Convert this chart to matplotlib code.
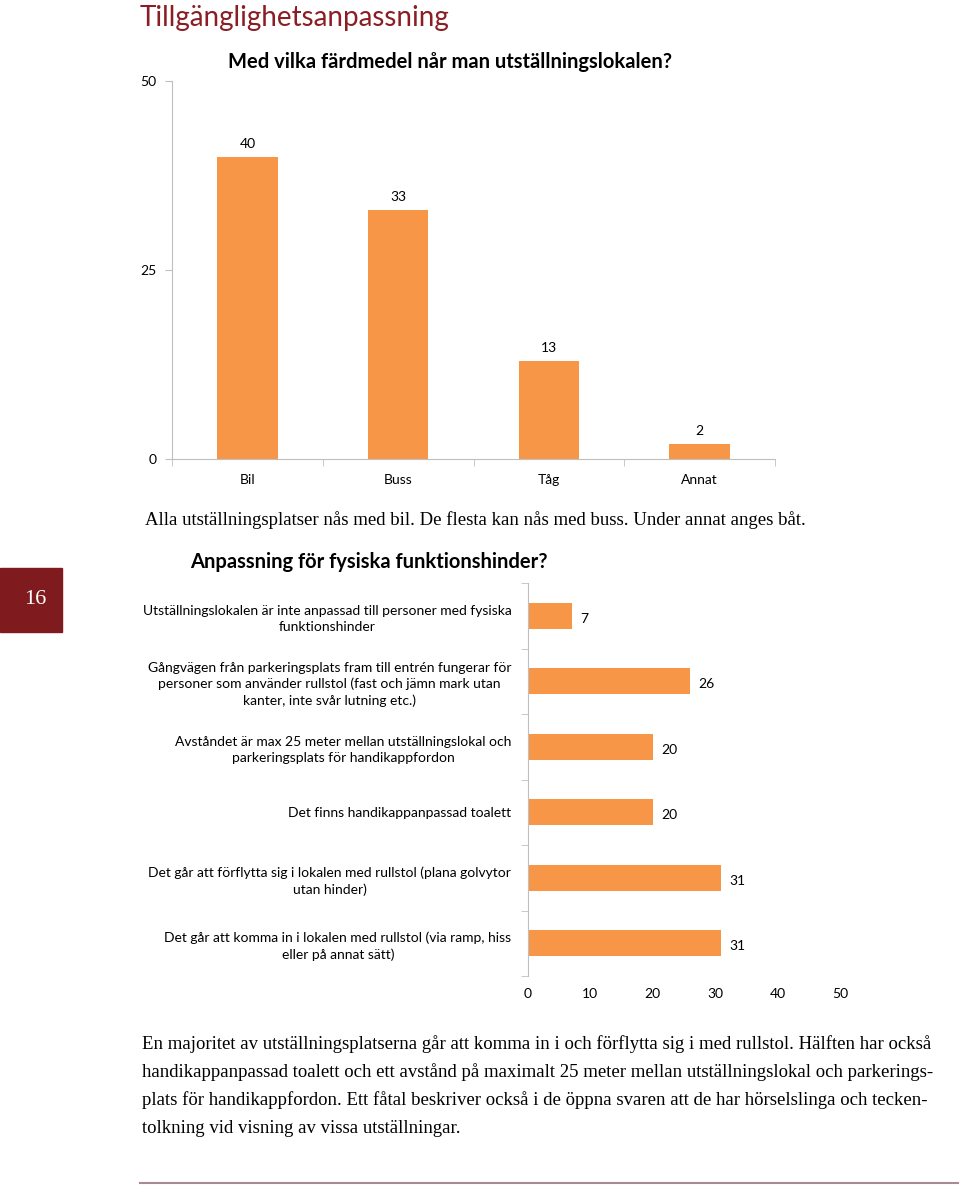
import numpy as np
import matplotlib.pyplot as plt

# data
transport = ['Bil', 'Buss', 'Tåg', 'Annat']
transport_n = [40, 33, 13, 2]

fys_labels = [
    'Utställningslokalen är inte anpassad till personer med fysiska\nfunktionshinder',
    'Gångvägen från parkeringsplats fram till entrén fungerar för\npersoner som använder rullstol (fast och jämn mark utan\nkanter, inte svår lutning etc.)',
    'Avståndet är max 25 meter mellan utställningslokal och\nparkeringsplats för handikappfordon',
    'Det finns handikappanpassad toalett',
    'Det går att förflytta sig i lokalen med rullstol (plana golvytor\nutan hinder)',
    'Det går att komma in i lokalen med rullstol (via ramp, hiss\neller på annat sätt)',
]
fys_n = [7, 26, 20, 20, 31, 31]

caption1 = 'Alla utställningsplatser nås med bil. De flesta kan nås med buss. Under annat anges båt.'
para = [
    'En majoritet av utställningsplatserna går att komma in i och förflytta sig i med rullstol. Hälften har också',
    'handikappanpassad toalett och ett avstånd på maximalt 25 meter mellan utställningslokal och parkerings-',
    'plats för handikappfordon. Ett fåtal beskriver också i de öppna svaren att de har hörselslinga och tecken-',
    'tolkning vid visning av vissa utställningar.',
]

W, H = 960, 1191
orange = '#F79646'
grey = '#BFBFBF'
darkred = '#8B1E24'
sans = 'Lato'
serif = 'Liberation Serif'

fig = plt.figure(figsize=(W / 100, H / 100), dpi=100)

def fx(x):
    return x / W

def fy(y):
    return 1 - y / H

# page title
fig.text(fx(140), fy(18), 'Tillgänglighetsanpassning', color=darkred, fontsize=20,
         family=sans, va='center', ha='left')

# ---- top bar chart
ax1 = fig.add_axes([fx(172), fy(459), fx(775 - 172), (459 - 81) / H])
x = np.arange(len(transport))
ax1.bar(x, transport_n, width=0.4, color=orange)
for xi, v in zip(x, transport_n):
    ax1.annotate(str(v), (xi, v), xytext=(0, 5), textcoords='offset points',
                 ha='center', va='bottom', fontsize=10, family=sans)
ax1.set_xlim(-0.5, len(transport) - 0.5)
ax1.set_ylim(0, 50)
ax1.set_yticks([0, 25, 50])
ax1.set_xticks(x)
ax1.set_xticklabels(transport)
ax1.set_xticks(np.arange(-0.5, len(transport)), minor=True)
ax1.tick_params(axis='x', which='major', length=0, pad=11, labelsize=10)
ax1.tick_params(axis='x', which='minor', length=5, color=grey)
ax1.tick_params(axis='y', length=5, color=grey, labelsize=10, pad=6)
for s in ['top', 'right']:
    ax1.spines[s].set_visible(False)
for s in ['left', 'bottom']:
    ax1.spines[s].set_color(grey)
for lab in ax1.get_xticklabels() + ax1.get_yticklabels():
    lab.set_family(sans)

fig.text(fx(450), fy(62), 'Med vilka färdmedel når man utställningslokalen?', fontsize=14.5,
         fontweight='bold', family=sans, ha='center', va='center')

fig.text(fx(145), fy(520), caption1, fontsize=13.5, family=serif, ha='left', va='center')

# ---- page number box
fig.patches.append(plt.Rectangle((0, fy(632)), fx(62), (632 - 568) / H,
                                 transform=fig.transFigure, color='#7F1A1E'))
fig.text(fx(35), fy(600), '16', color='white', fontsize=16, family=serif,
         ha='center', va='center')

# ---- horizontal bar chart
fig.text(fx(369), fy(562), 'Anpassning för fysiska funktionshinder?', fontsize=14.5,
         fontweight='bold', family=sans, ha='center', va='center')

ax2 = fig.add_axes([fx(528), fy(976), fx(840 - 528), (976 - 583) / H])
y = np.arange(len(fys_n))
ax2.barh(y, fys_n, height=0.4, color=orange)
for yi, v in zip(y, fys_n):
    ax2.annotate(str(v), (v, yi), xytext=(6, -2), textcoords='offset points',
                 ha='left', va='center', fontsize=10, family=sans)
ax2.set_xlim(0, 50)
ax2.set_ylim(len(fys_n) - 0.5, -0.5)
ax2.set_xticks(np.arange(0, 51, 10))
ax2.set_yticks(y)
ax2.set_yticklabels(fys_labels)
ax2.set_yticks(np.arange(-0.5, len(fys_n)), minor=True)
ax2.tick_params(axis='y', which='major', length=0, pad=12, labelsize=10)
ax2.tick_params(axis='y', which='minor', length=5, color=grey)
ax2.tick_params(axis='x', length=0, labelsize=10, pad=9)
for s in ['top', 'right', 'bottom']:
    ax2.spines[s].set_visible(False)
ax2.spines['left'].set_color(grey)
for lab in ax2.get_xticklabels():
    lab.set_family(sans)
for lab in ax2.get_yticklabels():
    lab.set_family(sans)
    lab.set_multialignment('center')
    lab.set_linespacing(1.4)

# ---- paragraph
for i, line in enumerate(para):
    fig.text(fx(142), fy(1044 + i * 28.2), line, fontsize=13.5, family=serif,
             ha='left', va='center')

fig.add_artist(plt.Line2D([fx(140), fx(958)], [fy(1183), fy(1183)],
                          transform=fig.transFigure, color='#A88A92', lw=1.5))

fig.savefig('out.png', dpi=100)
